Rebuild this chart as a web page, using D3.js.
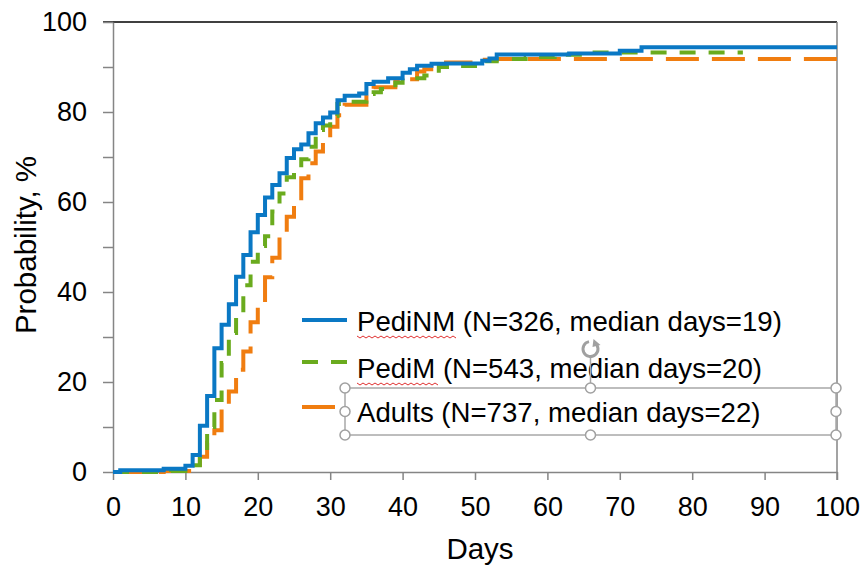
<!DOCTYPE html>
<html lang="en">
  <head>
    <meta charset="utf-8">
    <title>Cumulative probability - D3</title>
    <style>
      body { margin: 0; background: #fff; }
      text { font-family: "Liberation Sans", Arial, sans-serif; fill: #000; }
    </style>
  </head>
  <body>
    <div id="dataviz_area"></div>
    <script src="https://d3js.org/d3.v7.min.js"></script>
    <script>
      // step data (day, cumulative %)
      var blueDays = [0,1,7,10,11,12,13,14,15,16,17,18,19,20,21,22,23,24,25,26,27,28,29,30,31,32,34,35,36,38,40,41,42,44,46,51,52,53,63,70,73,100]
      var blueVals = [0,0.4,0.7,1.4,3.8,10.3,16.9,27.5,32.7,37.3,43.4,48.2,53.3,57.1,61.0,63.8,66.4,69.8,71.7,72.8,75.3,77.5,78.8,79.9,82.6,83.6,84.1,86.2,86.7,87.5,88.7,89.5,90.3,90.7,90.8,91.4,91.9,92.8,93.0,93.6,94.4,94.4]

      var greenDays = [0,8,10,11,12,13,14,15,16,17,18,19,20,21,22,23,24,25,26,27,28,29,30,31,32,35,36,37,39,40,43,45,47,50,53,57,61,65,87]
      var greenVals = [0,0.2,0.5,1.5,4.5,10,16,24.2,30.9,35.3,41.5,46.7,50.2,52.4,57.9,61.9,65.5,67.3,69.5,72.3,76.0,77.0,79.1,81.8,82.3,84.0,84.4,85.1,86.5,87.5,88.1,90.0,90.2,91.3,91.8,92.2,92.7,93.2,93.2]

      var orangeDays = [0,7,11,12,13,14,15,16,17,18,19,20,21,22,23,24,25,26,27,28,29,30,31,32,35,36,39,40,42,43,46,50,53,100]
      var orangeVals = [0,0.2,1.1,3.4,6.5,9.3,14.0,17.9,22.7,26.8,33.3,37.5,43.3,47.6,52.7,56.7,60.1,65.3,68.6,71.2,74.0,76.7,79.3,81.6,83.7,85.5,86.7,87.3,89.0,89.5,91.0,91.6,91.8,91.8]

      var seriesNames = ["PediNM (N=326, median days=19)", "PediM (N=543, median days=20)", "Adults (N=737, median days=22)"]
      var xTicks = [0,10,20,30,40,50,60,70,80,90,100]
      var yTicks = [0,10,20,30,40,50,60,70,80,90,100]

      var W = 860, H = 566
      var margins = {top: 22, right: 23, bottom: 94, left: 113}

      var svg = d3.select("#dataviz_area")
        .append("svg")
          .attr("width", W)
          .attr("height", H)

      var x = d3.scaleLinear()
        .domain([0, 100])
        .range([margins.left, W - margins.right])

      var y = d3.scaleLinear()
        .domain([0, 100])
        .range([H - margins.bottom, margins.top])

      var axisColor = "#858585"

      // top frame line (black) and right frame (gray)
      svg.append("line")
        .attr("x1", x(0) - 10).attr("x2", x(100))
        .attr("y1", y(100)).attr("y2", y(100))
        .style("stroke", "#000").style("stroke-width", 1.5)
      svg.append("line")
        .attr("x1", x(100)).attr("x2", x(100))
        .attr("y1", y(100)).attr("y2", y(0) + 8)
        .style("stroke", axisColor).style("stroke-width", 1.5)

      // axes
      svg.append("g")
        .attr("transform", "translate(" + x(0) + ",0)")
        .call(d3.axisLeft(y)
          .tickValues(yTicks)
          .tickSize(10)
          .tickSizeOuter(0)
          .tickPadding(16)
          .tickFormat(function(d) { return d % 20 === 0 ? d : "" }))

      svg.append("g")
        .attr("transform", "translate(0," + y(0) + ")")
        .call(d3.axisBottom(x)
          .tickValues(xTicks)
          .tickSize(8)
          .tickSizeOuter(0)
          .tickPadding(17))

      svg.selectAll(".domain, .tick line")
        .style("stroke", axisColor)
        .style("stroke-width", 1.5)
      svg.selectAll(".tick text")
        .style("font-size", "27px")
        .style("font-family", "'Liberation Sans', Arial, sans-serif")
        .style("fill", "#000")

      // axis titles
      svg.append("text")
        .attr("transform", "translate(26," + ((y(0) + y(100)) / 2 - 2) + ") rotate(-90)")
        .attr("text-anchor", "middle")
        .attr("dy", "0.35em")
        .style("font-size", "29.5px")
        .text("Probability, %")

      svg.append("text")
        .attr("x", 480)
        .attr("y", 559)
        .attr("text-anchor", "middle")
        .style("font-size", "29.5px")
        .text("Days")

      // curves
      var series = [
        {days: orangeDays, vals: orangeVals, color: "#f07d10", dash: "33,13"},
        {days: greenDays, vals: greenVals, color: "#6aab1e", dash: "16,13"},
        {days: blueDays, vals: blueVals, color: "#0a78c4", dash: null}
      ]

      var line = d3.line()
        .curve(d3.curveStepAfter)
        .x(function(d) { return x(d[0]) })
        .y(function(d) { return y(d[1]) })

      series.forEach(function(s) {
        var pts = d3.zip(s.days, s.vals)
        svg.append("path")
          .attr("d", line(pts))
          .style("fill", "none")
          .style("stroke", s.color)
          .style("stroke-width", 4)
          .style("stroke-dasharray", s.dash)
      })

      // legend
      var legend = [
        {name: seriesNames[0], color: "#0a78c4", dash: null, ly: 320, ty: 331, len: 45},
        {name: seriesNames[1], color: "#6aab1e", dash: "16,13", ly: 362, ty: 378, len: 45},
        {name: seriesNames[2], color: "#f07d10", dash: null, ly: 407, ty: 422, len: 33}
      ]

      legend.forEach(function(l, i) {
        svg.append("line")
          .attr("x1", 302).attr("x2", 302 + l.len)
          .attr("y1", l.ly).attr("y2", l.ly)
          .style("stroke", l.color)
          .style("stroke-width", 4)
          .style("stroke-dasharray", l.dash)
        var t = svg.append("text")
          .attr("x", 357)
          .attr("y", l.ty)
          .style("font-size", "27.6px")
          .text(l.name)
        // spell-check squiggle under the first word of the two paediatric entries
        if (i < 2) {
          var wlen = t.node().getSubStringLength(0, l.name.indexOf(" "))
          var p = "M357," + (l.ty + 5)
          for (var k = 0; k * 3 < wlen; k++) {
            p += " L" + (357 + (k + 1) * 3) + "," + (l.ty + 5 + (k % 2 === 0 ? 2 : 0))
          }
          svg.append("path")
            .attr("d", p)
            .style("fill", "none")
            .style("stroke", "#e03030")
            .style("stroke-width", 1)
        }
      })

      // text box selection frame with handles
      var box = {x0: 345, x1: 836, y0: 388, y1: 435}
      var midX = (box.x0 + box.x1) / 2, midY = (box.y0 + box.y1) / 2
      svg.append("rect")
        .attr("x", box.x0).attr("y", box.y0)
        .attr("width", box.x1 - box.x0).attr("height", box.y1 - box.y0)
        .style("fill", "none")
        .style("stroke", "#a8a8a8")
        .style("stroke-width", 1.5)
      svg.append("line")
        .attr("x1", midX).attr("x2", midX)
        .attr("y1", 355).attr("y2", box.y0)
        .style("stroke", "#a8a8a8").style("stroke-width", 1.5)

      var handles = [
        [box.x0, box.y0], [midX, box.y0], [box.x1, box.y0],
        [box.x0, midY], [box.x1, midY],
        [box.x0, box.y1], [midX, box.y1], [box.x1, box.y1]
      ]
      svg.selectAll(".handle")
        .data(handles)
        .enter()
        .append("circle")
          .attr("class", "handle")
          .attr("cx", function(d) { return d[0] })
          .attr("cy", function(d) { return d[1] })
          .attr("r", 5)
          .style("fill", "#fff")
          .style("stroke", "#a0a0a0")
          .style("stroke-width", 1.5)

      // rotate handle
      var rot = svg.append("g").attr("transform", "translate(" + midX + ",349)")
      rot.append("path")
        .attr("d", d3.arc()({innerRadius: 6, outerRadius: 9, startAngle: 0.6, endAngle: 2 * Math.PI - 0.2}))
        .style("fill", "#a0a0a0")
      rot.append("path")
        .attr("d", "M3,-10 L10,-4 L2,-2 Z")
        .style("fill", "#a0a0a0")
    </script>
  </body>
</html>
